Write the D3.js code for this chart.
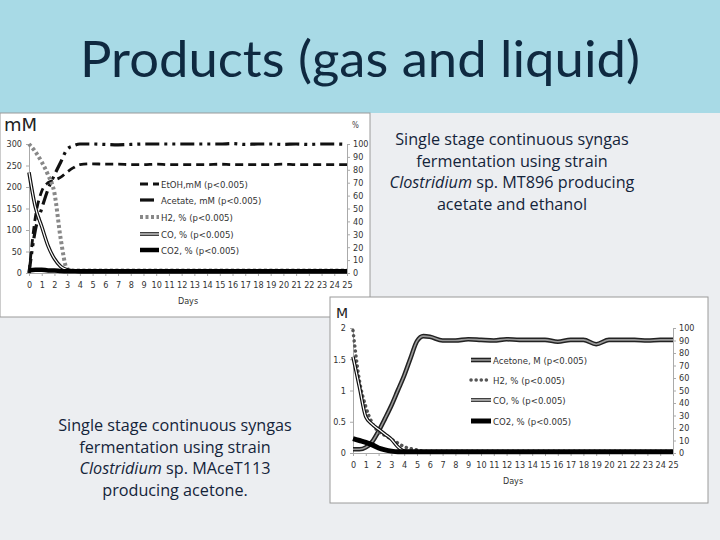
<!DOCTYPE html>
<html lang="en">
<head>
<meta charset="utf-8">
<title>Products (gas and liquid)</title>
<script src="https://cdn.jsdelivr.net/npm/d3@7"></script>
<style>
body { margin: 0; background: #eceef1; }
svg { display: block; }
.tick text { font-family: "DejaVu Sans Condensed", "DejaVu Sans", sans-serif; font-stretch: condensed; fill: #333; }
.capt { font-family: "Open Sans", sans-serif; fill: #14243a; font-size: 16.2px; }
</style>
</head>
<body>
<script>
// chart 1: strain MT896 (acetate + ethanol)
var daysA = [0, 0.5, 1, 1.5, 2, 2.5, 3, 3.5, 4, 5, 6, 7, 8, 9, 10, 11, 12, 13, 14, 15, 16, 17, 18, 19, 20, 21, 22, 23, 24, 25];
var etoh = [0, 130, 190, 210, 216, 223, 235, 245, 252, 254, 253, 253, 252, 252, 253, 252, 252, 252, 252, 253, 252, 252, 252, 252, 253, 252, 252, 252, 252, 252];
var acetate = [0, 100, 150, 195, 228, 258, 288, 296, 300, 300, 299, 298, 299, 300, 300, 300, 300, 300, 300, 300, 301, 299, 300, 300, 299, 300, 299, 300, 300, 299];
var h2A = [100, 94, 86, 76, 62, 26, 3, 2, 2, 2, 2, 2, 2, 2, 2, 2, 2, 2, 2, 2, 2, 2, 2, 2, 2, 2, 2, 2, 2, 2];
var coA = [78, 51, 36, 21, 11, 5, 2.5, 1.5, 1, 1, 1, 1, 1, 1, 1, 1, 1, 1, 1, 1, 1, 1, 1, 1, 1, 1, 1, 1, 1, 1];
var co2A = [2, 2.5, 2.5, 2, 2, 1.5, 1.3, 1.3, 1.3, 1.3, 1.3, 1.3, 1.3, 1.3, 1.3, 1.3, 1.3, 1.3, 1.3, 1.3, 1.3, 1.3, 1.3, 1.3, 1.3, 1.3, 1.3, 1.3, 1.3, 1.3];

// chart 2: strain MAceT113 (acetone)
var daysB = [0, 0.5, 1, 1.5, 2, 2.5, 3, 3.5, 4, 4.5, 5, 5.5, 6, 7, 8, 9, 10, 11, 12, 13, 14, 15, 16, 17, 18, 19, 20, 21, 22, 23, 24, 25];
var acetone = [0.06, 0.06, 0.09, 0.18, 0.35, 0.55, 0.76, 1.0, 1.24, 1.52, 1.79, 1.87, 1.86, 1.80, 1.80, 1.82, 1.81, 1.80, 1.82, 1.81, 1.81, 1.81, 1.78, 1.81, 1.81, 1.74, 1.81, 1.81, 1.81, 1.80, 1.81, 1.81];
var h2B = [98, 58, 37, 24, 17, 14, 11, 8, 5, 3.5, 2.5, 1.5, 1.5, 1.5, 1.5, 1.5, 1.5, 1.5, 1.5, 1.5, 1.5, 1.5, 1.5, 1.5, 1.5, 1.5, 1.5, 1.5, 1.5, 1.5, 1.5, 1.5];
var coB = [77, 53, 29, 23, 19, 15, 11, 5, 1.5, 1, 1, 1, 1, 1, 1, 1, 1, 1, 1, 1, 1, 1, 1, 1, 1, 1, 1, 1, 1, 1, 1, 1];
var co2B = [11.5, 10, 8.5, 6.5, 4, 2.5, 1.5, 1, 1, 1, 1, 1, 1, 1, 1, 1, 1, 1, 1, 1, 1, 1, 1, 1, 1, 1, 1, 1, 1, 1, 1, 1];

var dayTicks = d3.range(0, 26);
var pctTicks = d3.range(0, 101, 10);
var mMTicks = [0, 50, 100, 150, 200, 250, 300];
var mTicks = [0, 0.5, 1, 1.5, 2];

var W = 720, H = 540;
var narrow = "DejaVu Sans Condensed, DejaVu Sans, sans-serif";
var svg = d3.select("body").append("svg")
    .attr("width", W)
    .attr("height", H);

// slide background
svg.append("rect").attr("width", W).attr("height", H).attr("fill", "#eceef1");
svg.append("rect").attr("width", W).attr("height", 113).attr("fill", "#a8dae6");
svg.append("text")
    .attr("x", 360).attr("y", 77)
    .attr("text-anchor", "middle")
    .attr("font-family", "Lato, sans-serif")
    .attr("font-size", 50)
    .attr("textLength", 560)
    .attr("lengthAdjust", "spacingAndGlyphs")
    .attr("fill", "#0f2940")
    .text("Products (gas and liquid)");

function pair(days, vals) {
    return days.map(function(d, i) { return [d, vals[i]]; });
}

function drawChart(cfg) {
    var g = svg.append("g");
    g.append("rect")
        .attr("x", cfg.box[0]).attr("y", cfg.box[1])
        .attr("width", cfg.box[2]).attr("height", cfg.box[3])
        .attr("fill", "#fff").attr("stroke", "#9a9a9a").attr("stroke-width", 1);

    var x = d3.scaleLinear().domain([0, 25]).range(cfg.xr);
    var yL = d3.scaleLinear().domain(cfg.leftDomain).range(cfg.yr);
    var yR = d3.scaleLinear().domain([0, 100]).range(cfg.yr);

    var ax = g.append("g").attr("transform", "translate(0," + cfg.yr[0] + ")")
        .call(d3.axisBottom(x).tickValues(dayTicks).tickSize(3).tickPadding(6));
    var al = g.append("g").attr("transform", "translate(" + cfg.xr[0] + ",0)")
        .call(d3.axisLeft(yL).tickValues(cfg.leftTicks).tickSize(3).tickPadding(4)
            .tickFormat(function(d) { return String(d); }));
    var ar = g.append("g").attr("transform", "translate(" + cfg.xr[1] + ",0)")
        .call(d3.axisRight(yR).tickValues(pctTicks).tickSize(3).tickPadding(3));
    [ax, al, ar].forEach(function(a) {
        a.selectAll("path,line").attr("stroke", "#aaa");
        a.selectAll("text").attr("font-size", 9);
    });

    g.append("text")
        .attr("x", (cfg.xr[0] + cfg.xr[1]) / 2).attr("y", cfg.yr[0] + 31)
        .attr("text-anchor", "middle")
        .attr("font-family", narrow).attr("font-stretch", "condensed").attr("font-size", 9)
        .attr("fill", "#333").text("Days");
    g.append("text")
        .attr("x", cfg.unitPos[0]).attr("y", cfg.unitPos[1])
        .attr("font-family", "DejaVu Sans, sans-serif").attr("font-size", cfg.unitSize)
        .attr("fill", "#222").text(cfg.unit);
    if (cfg.pctPos) {
        g.append("text")
            .attr("x", cfg.pctPos[0]).attr("y", cfg.pctPos[1])
            .attr("font-family", narrow).attr("font-size", 8)
            .attr("fill", "#444").text("%");
    }

    var lineL = d3.line().x(function(d) { return x(d[0]); }).y(function(d) { return yL(d[1]); })
        .curve(d3.curveMonotoneX);
    var lineR = d3.line().x(function(d) { return x(d[0]); }).y(function(d) { return yR(d[1]); })
        .curve(d3.curveMonotoneX);

    cfg.series.forEach(function(s) {
        var gen = s.axis === "L" ? lineL : lineR;
        var data = pair(s.days, s.vals);
        s.style.forEach(function(st) {
            g.append("path").datum(data)
                .attr("d", gen)
                .attr("fill", "none")
                .attr("stroke", st.c)
                .attr("stroke-width", st.w)
                .attr("stroke-dasharray", st.dash || null)
                .attr("stroke-linecap", st.cap || "butt");
        });
    });

    // legend
    cfg.series.forEach(function(s, i) {
        var ly = cfg.legend.ys[i];
        s.style.forEach(function(st) {
            g.append("line")
                .attr("x1", cfg.legend.x).attr("x2", cfg.legend.x + cfg.legend.len)
                .attr("y1", ly).attr("y2", ly)
                .attr("stroke", st.c).attr("stroke-width", st.w)
                .attr("stroke-dasharray", st.dash || null)
                .attr("stroke-linecap", st.cap || "butt");
        });
        g.append("text")
            .attr("x", cfg.legend.x + cfg.legend.len + 2).attr("y", ly + 3.5)
            .attr("font-family", narrow).attr("font-stretch", "condensed").attr("font-size", 9.5)
            .attr("fill", "#333").text(s.name);
    });
}

var dashStyle = [{ c: "#111", w: 2.8, dash: "8,5" }];
var dashDotStyle = [{ c: "#111", w: 3.2, dash: "14,5,3,5,3,5" }];
var h2StyleA = [{ c: "#888", w: 4, dash: "3,2.5" }];
var doubleStyle = [{ c: "#111", w: 3.6 }, { c: "#fff", w: 1.2 }];
var thickStyle = [{ c: "#000", w: 4.5 }];

drawChart({
    box: [0, 113, 370, 204],
    xr: [29, 347], yr: [273, 144],
    leftDomain: [0, 300], leftTicks: mMTicks,
    unit: "mM", unitSize: 18, unitPos: [4, 131], pctPos: [352, 128],
    legend: { x: 140, len: 19, ys: [184, 200, 217, 234, 250] },
    series: [
        { name: "EtOH,mM (p<0.005)", axis: "L", days: daysA, vals: etoh, style: dashStyle },
        { name: "Acetate, mM (p<0.005)", axis: "L", days: daysA, vals: acetate, style: dashDotStyle },
        { name: "H2, % (p<0.005)", axis: "R", days: daysA, vals: h2A, style: h2StyleA },
        { name: "CO, % (p<0.005)", axis: "R", days: daysA, vals: coA, style: doubleStyle },
        { name: "CO2, % (p<0.005)", axis: "R", days: daysA, vals: co2A, style: thickStyle }
    ]
});

drawChart({
    box: [330, 297, 378, 206],
    xr: [353, 673], yr: [453, 328],
    leftDomain: [0, 2], leftTicks: mTicks,
    unit: "M", unitSize: 14, unitPos: [336, 318], pctPos: null,
    legend: { x: 471, len: 20, ys: [360, 380, 400, 421] },
    series: [
        { name: "Acetone, M (p<0.005)", axis: "L", days: daysB, vals: acetone, style: [{ c: "#222", w: 4.6 }, { c: "#999", w: 1.6 }] },
        { name: "H2, % (p<0.005)", axis: "R", days: daysB, vals: h2B, style: [{ c: "#555", w: 3.5, dash: "0.1,5", cap: "round" }] },
        { name: "CO, % (p<0.005)", axis: "R", days: daysB, vals: coB, style: doubleStyle },
        { name: "CO2, % (p<0.005)", axis: "R", days: daysB, vals: co2B, style: [{ c: "#000", w: 5 }] }
    ]
});

// captions
function caption(cx, y0, lines) {
    var t = svg.append("text").attr("class", "capt").attr("text-anchor", "middle");
    lines.forEach(function(parts, i) {
        var ts = t.append("tspan").attr("x", cx).attr("y", y0 + i * 21.5);
        parts.forEach(function(p) {
            ts.append("tspan").attr("font-style", p[1] ? "italic" : null).text(p[0]);
        });
    });
}
caption(512, 145, [
    [["Single stage continuous syngas", false]],
    [["fermentation using strain", false]],
    [["Clostridium", true], [" sp. MT896 producing", false]],
    [["acetate and ethanol", false]]
]);
caption(175, 431, [
    [["Single stage continuous syngas", false]],
    [["fermentation using strain", false]],
    [["Clostridium", true], [" sp. MAceT113", false]],
    [["producing acetone.", false]]
]);
</script>
</body>
</html>
